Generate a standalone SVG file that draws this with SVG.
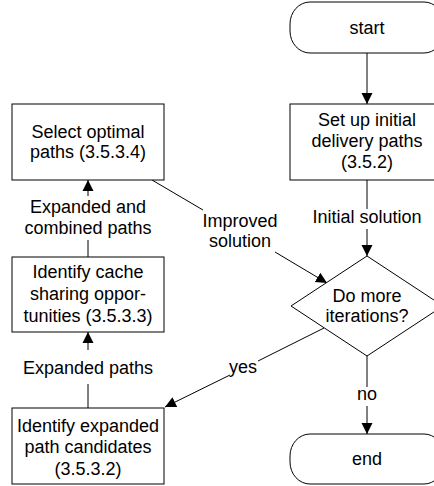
<svg xmlns="http://www.w3.org/2000/svg" width="434" height="486" viewBox="0 0 434 486">
<style>
.s{fill:#fff;stroke:#000;stroke-width:1}
.c{fill:none;stroke:#000;stroke-width:1}
text{font-family:"Liberation Sans",Arial,sans-serif;font-size:18px;fill:#000;text-anchor:middle}
</style>
<defs>
<marker id="a" markerUnits="userSpaceOnUse" markerWidth="12" markerHeight="12" refX="11" refY="5.5" orient="auto" viewBox="0 0 12 11">
<path d="M0,0 L11,5.5 L0,11 z" fill="#000"/>
</marker>
</defs>
<rect width="434" height="486" fill="#fff"/>
<g id="connectors">
<line class="c" x1="367" y1="53" x2="367" y2="104" marker-end="url(#a)"/>
<line class="c" x1="367" y1="180" x2="367" y2="209"/>
<line class="c" x1="367" y1="229" x2="367" y2="256" marker-end="url(#a)"/>
<line class="c" x1="367" y1="356" x2="367" y2="387"/>
<line class="c" x1="367" y1="406" x2="367" y2="434" marker-end="url(#a)"/>
<line class="c" x1="324" y1="328" x2="258" y2="361"/>
<line class="c" x1="230" y1="375" x2="165" y2="407" marker-end="url(#a)"/>
<line class="c" x1="152" y1="180" x2="203" y2="210"/>
<line class="c" x1="275" y1="252" x2="327" y2="283" marker-end="url(#a)"/>
<line class="c" x1="88" y1="257" x2="88" y2="240"/>
<line class="c" x1="88" y1="196" x2="88" y2="180" marker-end="url(#a)"/>
<line class="c" x1="88" y1="408" x2="88" y2="384"/>
<line class="c" x1="88" y1="350" x2="88" y2="332" marker-end="url(#a)"/>
<text x="367" y="223">Initial solution</text>
<text x="367" y="400">no</text>
<text x="243" y="373">yes</text>
<text x="240" y="227">Improved</text>
<text x="240" y="247">solution</text>
<text x="88" y="213">Expanded and</text>
<text x="88" y="234">combined paths</text>
<text x="88" y="374">Expanded paths</text>
</g>
<g id="start">
<rect class="s" x="290" y="2" width="154" height="51" rx="20" ry="22"/>
<text x="367" y="34">start</text>
</g>
<g id="setup">
<rect class="s" x="290" y="104" width="154" height="76"/>
<text x="367" y="126">Set up initial</text>
<text x="367" y="147">delivery paths</text>
<text x="367" y="168">(3.5.2)</text>
</g>
<g id="decision">
<polygon class="s" points="367,256 443,306 367,356 291,306"/>
<text x="367" y="302">Do more</text>
<text x="367" y="322">iterations?</text>
</g>
<g id="end">
<rect class="s" x="290" y="434" width="154" height="50" rx="20" ry="22"/>
<text x="367" y="465">end</text>
</g>
<g id="select">
<rect class="s" x="12" y="104" width="152" height="76"/>
<text x="88" y="138">Select optimal</text>
<text x="88" y="158">paths (3.5.3.4)</text>
</g>
<g id="cache">
<rect class="s" x="12" y="257" width="152" height="75"/>
<text x="88" y="278">Identify cache</text>
<text x="88" y="300">sharing oppor-</text>
<text x="88" y="322">tunities (3.5.3.3)</text>
</g>
<g id="expanded">
<rect class="s" x="12" y="408" width="152" height="76"/>
<text x="88" y="432">Identify expanded</text>
<text x="88" y="453">path candidates</text>
<text x="88" y="475">(3.5.3.2)</text>
</g>
</svg>
